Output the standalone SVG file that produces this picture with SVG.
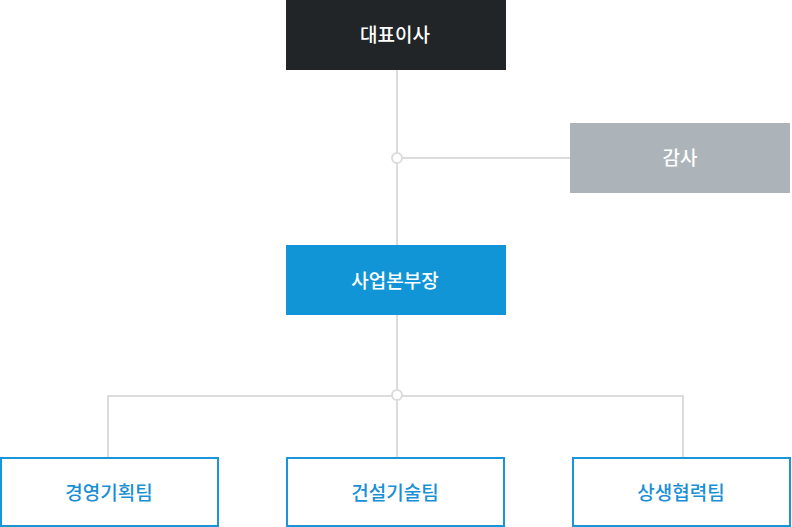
<svg xmlns="http://www.w3.org/2000/svg" width="792" height="527" viewBox="0 0 792 527">
<style>
.ln{stroke:#dcdcdc;stroke-width:2;fill:none}
.dot{stroke:#dcdcdc;stroke-width:2;fill:#fff}
.t{font-family:"Noto Sans CJK KR","Noto Sans",sans-serif;font-size:19px;font-weight:500;text-anchor:middle;dominant-baseline:central}
.w{fill:#fff}
.b{fill:#1a8fd4}
.ob{fill:#fff;stroke:#1a96d8;stroke-width:2}
</style>
<rect width="792" height="527" fill="#fff"/>
<g id="connectors">
<path class="ln" d="M397 70V245"/>
<path class="ln" d="M397 158H570"/>
<path class="ln" d="M397 315V396"/>
<path class="ln" d="M108 457V396H683V457"/>
<path class="ln" d="M397 396V457"/>
<circle class="dot" cx="397" cy="158" r="5"/>
<circle class="dot" cx="397" cy="395" r="5"/>
</g>
<g id="ceo">
<rect x="286" y="0" width="220" height="70" fill="#212527"/>
<text class="t w" x="395" y="33">대표이사</text>
</g>
<g id="audit">
<rect x="570" y="123" width="220" height="70" fill="#adb4b9"/>
<text class="t w" x="680" y="156">감사</text>
</g>
<g id="division">
<rect x="286" y="245" width="220" height="70" fill="#1295d6"/>
<text class="t w" x="395" y="279">사업본부장</text>
</g>
<g id="team1">
<rect class="ob" x="1" y="458" width="217" height="68"/>
<text class="t b" x="109" y="491">경영기획팀</text>
</g>
<g id="team2">
<rect class="ob" x="287" y="458" width="217" height="68"/>
<text class="t b" x="395" y="491">건설기술팀</text>
</g>
<g id="team3">
<rect class="ob" x="573" y="458" width="217" height="68"/>
<text class="t b" x="681" y="491">상생협력팀</text>
</g>
</svg>
